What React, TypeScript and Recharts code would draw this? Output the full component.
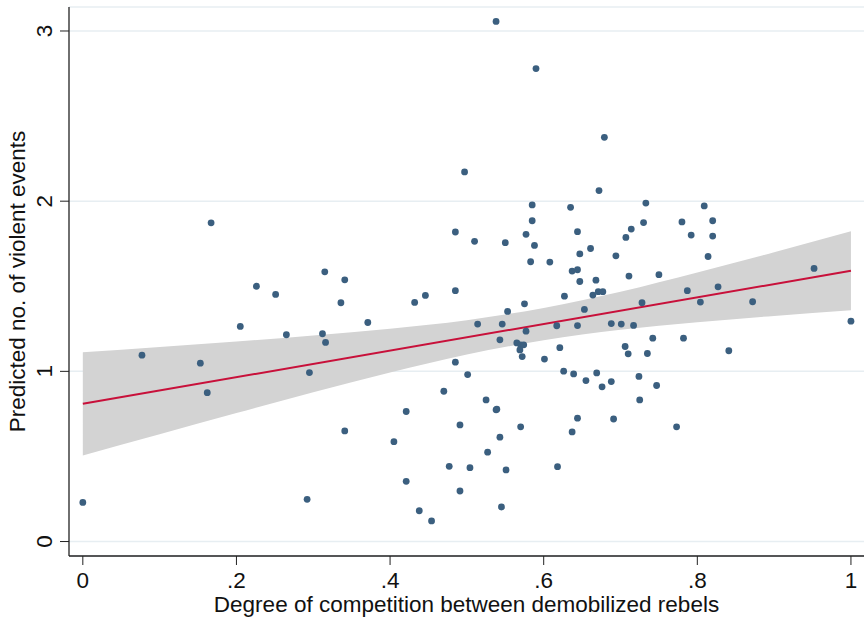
import React from "react";
import {
  ComposedChart,
  Scatter,
  Line,
  Area,
  XAxis,
  YAxis,
  CartesianGrid,
} from "recharts";

// Scatter points: degree of competition (x) and predicted no. of violent events (y)
const pointX = [
  0.0, 0.077, 0.153, 0.162, 0.167, 0.205, 0.226, 0.251, 0.265, 0.292,
  0.295, 0.312, 0.315, 0.316, 0.336, 0.341, 0.341, 0.371, 0.405, 0.421,
  0.421, 0.432, 0.438, 0.446, 0.454, 0.47, 0.477, 0.485, 0.485, 0.485,
  0.491, 0.491, 0.497, 0.501, 0.504, 0.51, 0.514, 0.525, 0.527, 0.538,
  0.538, 0.539, 0.543, 0.543, 0.545, 0.546, 0.55, 0.551, 0.553, 0.565,
  0.57, 0.574, 0.569, 0.572, 0.57, 0.575, 0.577, 0.577, 0.583, 0.585,
  0.585, 0.588, 0.59, 0.601, 0.608, 0.617, 0.618, 0.621, 0.626, 0.627,
  0.635, 0.637, 0.637, 0.639, 0.644, 0.644, 0.644, 0.644, 0.647, 0.647,
  0.653, 0.655, 0.661, 0.664, 0.668, 0.669, 0.671, 0.677, 0.672, 0.676,
  0.679, 0.688, 0.688, 0.691, 0.694, 0.701, 0.706, 0.707, 0.71, 0.711,
  0.714, 0.717, 0.724, 0.725, 0.728, 0.73, 0.733, 0.735, 0.742, 0.747,
  0.75, 0.773, 0.78, 0.782, 0.787, 0.792, 0.804, 0.809, 0.814, 0.82,
  0.82, 0.827, 0.841, 0.872, 0.952, 1.0,
];
const pointY = [
  0.23, 1.095, 1.048, 0.875, 1.873, 1.264, 1.5, 1.452, 1.215, 0.248,
  0.993, 1.221, 1.585, 1.17, 1.403, 1.538, 0.65, 1.287, 0.587, 0.764,
  0.354, 1.405, 0.181, 1.446, 0.121, 0.883, 0.442, 1.474, 1.819, 1.054,
  0.685, 0.297, 2.172, 0.981, 0.434, 1.764, 1.278, 0.832, 0.525, 3.056,
  0.774, 0.778, 1.185, 0.613, 0.203, 1.278, 1.756, 0.421, 1.352, 1.167,
  1.156, 1.156, 1.126, 1.087, 0.674, 1.397, 1.236, 1.805, 1.644, 1.978,
  1.885, 1.74, 2.779, 1.072, 1.642, 1.268, 0.44, 1.139, 1.001, 1.442,
  1.964, 1.589, 0.644, 0.985, 1.821, 1.597, 1.269, 0.725, 1.69, 1.528,
  1.364, 0.946, 1.722, 1.448, 1.536, 0.991, 1.468, 1.468, 2.062, 0.909,
  2.375, 1.281, 0.94, 0.72, 1.679, 1.278, 1.146, 1.787, 1.103, 1.56,
  1.836, 1.27, 0.97, 0.832, 1.403, 1.874, 1.989, 1.105, 1.195, 0.917,
  1.568, 0.674, 1.878, 1.195, 1.474, 1.801, 1.407, 1.972, 1.675, 1.885,
  1.795, 1.497, 1.121, 1.409, 1.605, 1.295,
];

// Fitted line end points
const fitX = [0, 1];
const fitY = [0.809, 1.591];

// Confidence band
const bandX = [0, 0.1, 0.2, 0.3, 0.4, 0.5, 0.6, 0.7, 0.8, 0.9, 1.0];
const bandLow = [0.506, 0.631, 0.755, 0.877, 0.993, 1.099, 1.183, 1.244, 1.289, 1.326, 1.359];
const bandHigh = [1.112, 1.143, 1.175, 1.211, 1.251, 1.301, 1.373, 1.468, 1.581, 1.7, 1.823];

const xTicks = [0, 0.2, 0.4, 0.6, 0.8, 1];
const xTickLabels = ["0", ".2", ".4", ".6", ".8", "1"];
const yTicks = [0, 1, 2, 3];
const yTickLabels = ["0", "1", "2", "3"];

const points = pointX.map((x, i) => ({ x, y: pointY[i] }));
const fitData = fitX.map((x, i) => ({ x, fit: fitY[i] }));
const bandData = bandX.map((x, i) => ({ x, band: [bandLow[i], bandHigh[i]] }));

const FONT = "'Liberation Sans', Arial, Helvetica, sans-serif";
const FS = 22.5;
const AXIS = "#222222";

const XTick = (props: any) => {
  const { x, y, payload } = props;
  const idx = xTicks.indexOf(payload.value);
  return (
    <text x={x} y={y + 21} textAnchor="middle" fontFamily={FONT} fontSize={FS} fill="#111">
      {idx >= 0 ? xTickLabels[idx] : payload.value}
    </text>
  );
};

const YTick = (props: any) => {
  const { x, y, payload } = props;
  const idx = yTicks.indexOf(payload.value);
  return (
    <text
      transform={`translate(${x - 6}, ${y}) rotate(-90)`}
      textAnchor="middle"
      fontFamily={FONT}
      fontSize={FS}
      fill="#111"
    >
      {idx >= 0 ? yTickLabels[idx] : payload.value}
    </text>
  );
};

const Dot = (props: any) => {
  const { cx, cy } = props;
  return <circle cx={cx} cy={cy} r={3.4} fill="#3b5f7f" />;
};

export default function App() {
  return (
    <div style={{ position: "absolute", left: 0, top: 0, width: 864, height: 618, background: "#fff" }}>
      <ComposedChart
        width={864}
        height={618}
        data={bandData}
        margin={{ top: 7, right: 0, bottom: 0, left: 0 }}
      >
        <CartesianGrid
          horizontal={true}
          vertical={false}
          stroke="#e7eef2"
          strokeWidth={1.5}
        />
        <XAxis
          type="number"
          dataKey="x"
          domain={[-0.018, 1.017]}
          ticks={xTicks}
          allowDataOverflow
          height={62}
          tickSize={9}
          tickMargin={2}
          stroke={AXIS}
          tickLine={{ stroke: AXIS }}
          axisLine={{ stroke: AXIS, strokeWidth: 1.3 }}
          tick={<XTick />}
          label={{
            content: (p: any) => {
              const vb = p.viewBox;
              return (
                <text
                  x={vb.x + vb.width / 2}
                  y={vb.y + 56}
                  textAnchor="middle"
                  fontFamily={FONT}
                  fontSize={FS}
                  fill="#111"
                >
                  Degree of competition between demobilized rebels
                </text>
              );
            },
          }}
        />
        <YAxis
          type="number"
          domain={[-0.085, 3.141]}
          ticks={yTicks}
          allowDataOverflow
          width={69}
          tickSize={9}
          tickMargin={2}
          stroke={AXIS}
          tickLine={{ stroke: AXIS }}
          axisLine={{ stroke: AXIS, strokeWidth: 1.3 }}
          tick={<YTick />}
          label={{
            content: (p: any) => {
              const vb = p.viewBox;
              return (
                <text
                  transform={`translate(25, ${vb.y + vb.height / 2}) rotate(-90)`}
                  textAnchor="middle"
                  fontFamily={FONT}
                  fontSize={FS}
                  fill="#111"
                >
                  Predicted no. of violent events
                </text>
              );
            },
          }}
        />
        <Area
          dataKey="band"
          type="monotone"
          fill="#d3d3d3"
          fillOpacity={1}
          stroke="none"
          isAnimationActive={false}
          activeDot={false}
        />
        <Line
          data={fitData}
          dataKey="fit"
          type="linear"
          stroke="#c8103a"
          strokeWidth={2}
          dot={false}
          activeDot={false}
          isAnimationActive={false}
        />
        <Scatter
          data={points}
          dataKey="y"
          shape={<Dot />}
          isAnimationActive={false}
        />
      </ComposedChart>
    </div>
  );
}
